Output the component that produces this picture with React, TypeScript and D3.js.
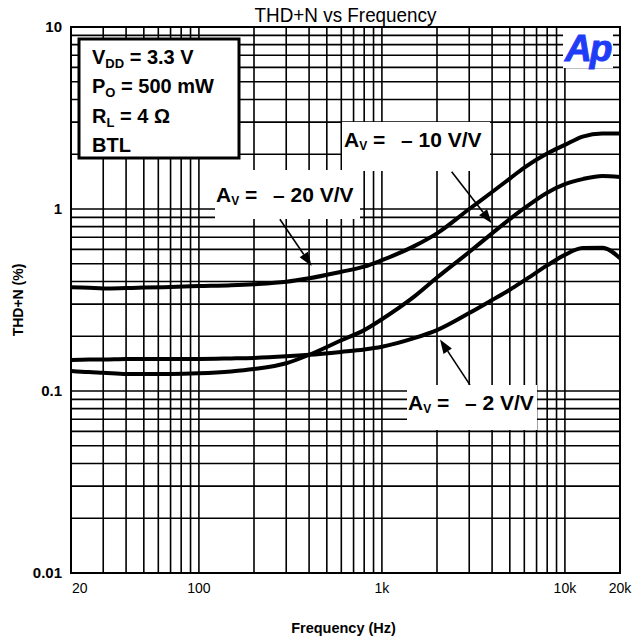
import * as d3 from "d3";

// THD+N (%) vs frequency
const freqs = [20, 25, 30, 40, 50, 70, 100, 150, 200, 300, 400, 600, 800, 1000, 1500, 2000, 3000, 4000, 5000, 6000, 8000, 10000, 12500, 16000, 20000];
const thdGain20 = [0.371, 0.369, 0.366, 0.368, 0.37, 0.373, 0.377, 0.381, 0.386, 0.398, 0.416, 0.452, 0.482, 0.523, 0.625, 0.735, 1.0, 1.24, 1.47, 1.69, 2.02, 2.25, 2.5, 2.6, 2.6];
const thdGain10 = [0.129, 0.127, 0.126, 0.124, 0.124, 0.124, 0.125, 0.128, 0.132, 0.142, 0.158, 0.19, 0.216, 0.248, 0.33, 0.42, 0.58, 0.735, 0.88, 1.01, 1.23, 1.37, 1.46, 1.52, 1.5];
const thdGain2 = [0.148, 0.149, 0.149, 0.15, 0.15, 0.15, 0.15, 0.151, 0.152, 0.155, 0.158, 0.164, 0.169, 0.175, 0.195, 0.216, 0.268, 0.316, 0.36, 0.405, 0.49, 0.56, 0.61, 0.613, 0.536];

const xTickValues = [20, 100, 1000, 10000, 20000];
const xTickLabels = ["20", "100", "1k", "10k", "20k"];
const yTickValues = [0.01, 0.1, 1, 10];
const yTickLabels = ["0.01", "0.1", "1", "10"];

// arrow [from, to] in (Hz, %)
const arrowGain20 = [[277, 0.878], [413, 0.486]];
const arrowGain10 = [[2405, 1.6], [3980, 0.834]];
const arrowGain2 = [[3028, 0.108], [2077, 0.192]];

const width = 632;
const height = 639;
const margin = { top: 27, right: 12, bottom: 66, left: 71 };
const font = "'Liberation Sans', Arial, Helvetica, sans-serif";

function Arrow({ from, to }: { from: [number, number]; to: [number, number] }) {
  const dx = to[0] - from[0];
  const dy = to[1] - from[1];
  const len = Math.hypot(dx, dy);
  const ux = dx / len;
  const uy = dy / len;
  const head = 14;
  const half = 5;
  const bx = to[0] - ux * head;
  const by = to[1] - uy * head;
  const pts = [
    [to[0], to[1]],
    [bx - uy * half, by + ux * half],
    [bx + uy * half, by - ux * half],
  ];
  return (
    <g>
      <line x1={from[0]} y1={from[1]} x2={bx} y2={by} stroke="#000" strokeWidth={1.6} />
      <polygon points={pts.map((p) => p.join(",")).join(" ")} fill="#000" />
    </g>
  );
}

function GainLabel({ x0, y0, gain }: { x0: number; y0: number; gain: string }) {
  return (
    <text x={x0} y={y0} fontFamily={font} fontWeight="bold" fontSize={21} fill="#000">
      <tspan>A</tspan>
      <tspan fontSize={12} dy={3}>V</tspan>
      <tspan dy={-3}> =</tspan>
      <tspan x={x0 + 57}>{"\u2013 " + gain + " V/V"}</tspan>
    </text>
  );
}

export default function App() {
  const x = d3.scaleLog().domain([20, 20000]).range([margin.left, width - margin.right]);
  const y = d3.scaleLog().domain([0.01, 10]).range([height - margin.bottom, margin.top]);

  const line = d3
    .line<number>()
    .x((_, i) => x(freqs[i]))
    .y((d) => y(d))
    .curve(d3.curveMonotoneX);

  const [x0, x1] = x.range();
  const [yb, yt] = y.range();

  const pt = (d: number[]): [number, number] => [x(d[0]), y(d[1])];

  const conditions = [
    { main: "V", sub: "DD", rest: " = 3.3 V" },
    { main: "P", sub: "O", rest: " = 500 mW" },
    { main: "R", sub: "L", rest: " = 4 \u03a9" },
    { main: "BTL", sub: "", rest: "" },
  ];

  return (
    <svg
      width={width}
      height={height}
      style={{ position: "absolute", left: 0, top: 0, background: "#fff" }}
    >
      <rect width={width} height={height} fill="#fff" />

      {/* grid */}
      {x.ticks().map((t, i) => (
        <line key={"gx" + i} x1={x(t)} x2={x(t)} y1={yt} y2={yb} stroke="#000" strokeWidth={1.6} />
      ))}
      {y.ticks().map((t, i) => (
        <line key={"gy" + i} x1={x0} x2={x1} y1={y(t)} y2={y(t)} stroke="#000" strokeWidth={1.6} />
      ))}

      {/* white label backgrounds */}
      <rect x={79} y={39} width={160} height={119} fill="#fff" stroke="#000" strokeWidth={3} />
      <rect x={342} y={122} width={148} height={49} fill="#fff" />
      <rect x={215} y={170} width={145} height={49} fill="#fff" />
      <rect x={407} y={385} width={130} height={45} fill="#fff" />
      <rect x={563} y={28} width={50} height={40} fill="#fff" />

      {/* frame */}
      <rect x={x0} y={yt} width={x1 - x0} height={yb - yt} fill="none" stroke="#000" strokeWidth={2} />

      {/* curves */}
      {[thdGain20, thdGain10, thdGain2].map((s, i) => (
        <path key={"c" + i} d={line(s) ?? ""} fill="none" stroke="#000" strokeWidth={4} strokeLinejoin="round" />
      ))}

      {/* arrows */}
      <Arrow from={pt(arrowGain20[0])} to={pt(arrowGain20[1])} />
      <Arrow from={pt(arrowGain10[0])} to={pt(arrowGain10[1])} />
      <Arrow from={pt(arrowGain2[0])} to={pt(arrowGain2[1])} />

      {/* gain labels */}
      <GainLabel x0={344} y0={147} gain="10" />
      <GainLabel x0={216} y0={202} gain="20" />
      <GainLabel x0={408} y0={410} gain="2" />

      {/* conditions box */}
      {conditions.map((c, i) => (
        <text key={"cond" + i} x={92} y={64 + i * 29.3} fontFamily={font} fontWeight="bold" fontSize={20} fill="#000">
          <tspan>{c.main}</tspan>
          {c.sub && (
            <tspan fontSize={13} dy={4}>
              {c.sub}
            </tspan>
          )}
          {c.rest && <tspan dy={c.sub ? -4 : 0}>{c.rest}</tspan>}
        </text>
      ))}

      {/* Ap logo */}
      <text x={565} y={61} fontFamily={font} fontWeight="bold" fontStyle="italic" fontSize={37} fill="#1f3cf6" stroke="#1f3cf6" strokeWidth={1} letterSpacing={-2}>
        Ap
      </text>

      {/* title */}
      <text x={(x0 + x1) / 2} y={22} textAnchor="middle" fontFamily={font} fontSize={21} textLength={182} lengthAdjust="spacingAndGlyphs" fill="#000">
        THD+N vs Frequency
      </text>

      {/* y tick labels */}
      {yTickValues.map((v, i) => (
        <text key={"yt" + i} x={x0 - 9} y={y(v)} dy="0.36em" textAnchor="end" fontFamily={font} fontWeight="bold" fontSize={15} fill="#000">
          {yTickLabels[i]}
        </text>
      ))}

      {/* x tick labels */}
      {xTickValues.map((v, i) => (
        <text
          key={"xt" + i}
          x={i === 0 ? x(v) + 1 : x(v)}
          y={yb + 20}
          textAnchor={i === 0 ? "start" : "middle"}
          fontFamily={font}
          fontSize={14}
          fill="#000"
        >
          {xTickLabels[i]}
        </text>
      ))}

      {/* axis titles */}
      <text transform={`translate(23,${(yt + yb) / 2}) rotate(-90)`} textAnchor="middle" fontFamily={font} fontWeight="bold" fontSize={14} fill="#000">
        THD+N (%)
      </text>
      <text x={(x0 + x1) / 2 - 2} y={633} textAnchor="middle" fontFamily={font} fontWeight="bold" fontSize={14.5} fill="#000">
        Frequency (Hz)
      </text>
    </svg>
  );
}
